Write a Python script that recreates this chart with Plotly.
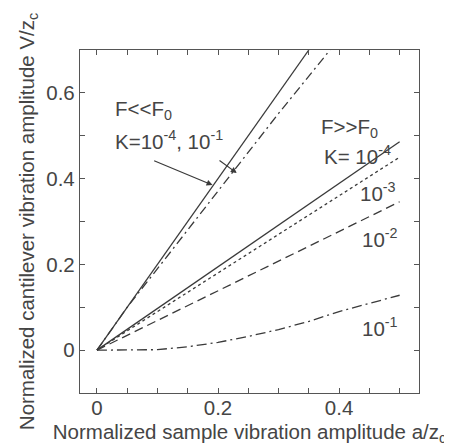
import plotly.graph_objects as go

# F << F0 curves
a_low_k4 = [0, 0.1, 0.2, 0.3, 0.35]
v_low_k4 = [0, 0.2, 0.4, 0.6, 0.7]
a_low_k1 = [0, 0.05, 0.1, 0.2, 0.3, 0.385]
v_low_k1 = [0, 0.1, 0.19, 0.372, 0.552, 0.7]

# F >> F0 curves
a_high = [0, 0.1, 0.2, 0.3, 0.4, 0.5]
v_high_k4 = [0, 0.097, 0.194, 0.292, 0.389, 0.486]
v_high_k3 = [0, 0.09, 0.18, 0.27, 0.36, 0.45]
v_high_k2 = [0, 0.069, 0.138, 0.208, 0.277, 0.346]
a_high_k1 = [0, 0.05, 0.1, 0.15, 0.2, 0.25, 0.3, 0.35, 0.4, 0.45, 0.5]
v_high_k1 = [0, 0.0, 0.001, 0.008, 0.018, 0.032, 0.048, 0.067, 0.09, 0.109, 0.128]

x_tickvals = [0, 0.2, 0.4]
x_ticktext = ["0", "0.2", "0.4"]
y_tickvals = [0, 0.2, 0.4, 0.6]
y_ticktext = ["0", "0.2", "0.4", "0.6"]

FONT = "Liberation Sans, Arial, sans-serif"
FS = 20.5
TC = "#454545"
LC = "#3a3a3a"
W = 1.3

fig = go.Figure()
fig.add_trace(go.Scatter(x=a_low_k4, y=v_low_k4, mode="lines", line=dict(color=LC, width=W)))
fig.add_trace(go.Scatter(x=a_low_k1, y=v_low_k1, mode="lines", line=dict(color=LC, width=W, dash="9px,4px,2px,4px")))
fig.add_trace(go.Scatter(x=a_high, y=v_high_k4, mode="lines", line=dict(color=LC, width=W)))
fig.add_trace(go.Scatter(x=a_high, y=v_high_k3, mode="lines", line=dict(color=LC, width=W, dash="3px,3px")))
fig.add_trace(go.Scatter(x=a_high, y=v_high_k2, mode="lines", line=dict(color=LC, width=W, dash="9px,5px")))
fig.add_trace(go.Scatter(x=a_high_k1, y=v_high_k1, mode="lines", line=dict(color=LC, width=W, dash="10px,4px,2px,4px")))

tf = dict(family=FONT, size=FS, color=TC)
annots = [
    dict(x=0.026, y=0.56, text="F<<F<sub>0</sub>"),
    dict(x=0.026, y=0.49, text="K=10<sup>-4</sup>, 10<sup>-1</sup>"),
    dict(x=0.367, y=0.517, text="F>>F<sub>0</sub>"),
    dict(x=0.371, y=0.455, text="K= 10<sup>-4</sup>"),
    dict(x=0.431, y=0.368, text="10<sup>-3</sup>"),
    dict(x=0.434, y=0.261, text="10<sup>-2</sup>"),
    dict(x=0.434, y=0.054, text="10<sup>-1</sup>"),
]
for an in annots:
    fig.add_annotation(xref="x", yref="y", showarrow=False, xanchor="left", yanchor="middle",
                       font=tf, **an)

# arrows
fig.add_annotation(xref="x", yref="y", axref="x", ayref="y", x=0.191, y=0.385, ax=0.092, ay=0.443,
                   text="", showarrow=True, arrowhead=2, arrowsize=1, arrowwidth=1.2, arrowcolor=LC)
fig.add_annotation(xref="x", yref="y", axref="x", ayref="y", x=0.231, y=0.413, ax=0.2, ay=0.445,
                   text="", showarrow=True, arrowhead=2, arrowsize=1, arrowwidth=1.2, arrowcolor=LC)

axis_common = dict(showgrid=False, zeroline=False, showline=True, linecolor="#555", linewidth=1.3,
                   mirror="ticks", ticks="inside", ticklen=5, tickwidth=1, tickcolor="#555",
                   automargin=False,
                   tickfont=dict(family=FONT, size=FS, color=TC))
fig.update_xaxes(range=[-0.028, 0.532], tickmode="array", tickvals=x_tickvals, ticktext=x_ticktext,
                 ticklabelstandoff=-4,
                 minor=dict(dtick=0.05, tick0=0, ticks="inside", ticklen=5, tickwidth=1, tickcolor="#555"),
                 title=dict(text="Normalized sample vibration amplitude a/z<sub>c</sub>",
                            font=dict(family=FONT, size=FS, color=TC), standoff=7),
                 **axis_common)
fig.update_yaxes(range=[-0.1, 0.7], tickmode="array", tickvals=y_tickvals, ticktext=y_ticktext,
                 minor=dict(dtick=0.1, tick0=0, ticks="inside", ticklen=5, tickwidth=1, tickcolor="#555"),
                 title=dict(text="Normalized cantilever vibration amplitude V/z<sub>c</sub>",
                            font=dict(family=FONT, size=FS, color=TC), standoff=6),
                 **axis_common)
# the page body adds an 8px offset, so the figure is 8px smaller and margins 8px tighter
fig.update_layout(width=444, height=438, margin=dict(l=72, r=33, t=42, b=53),
                  plot_bgcolor="white", paper_bgcolor="white", showlegend=False)
fig.write_html("out.html")
